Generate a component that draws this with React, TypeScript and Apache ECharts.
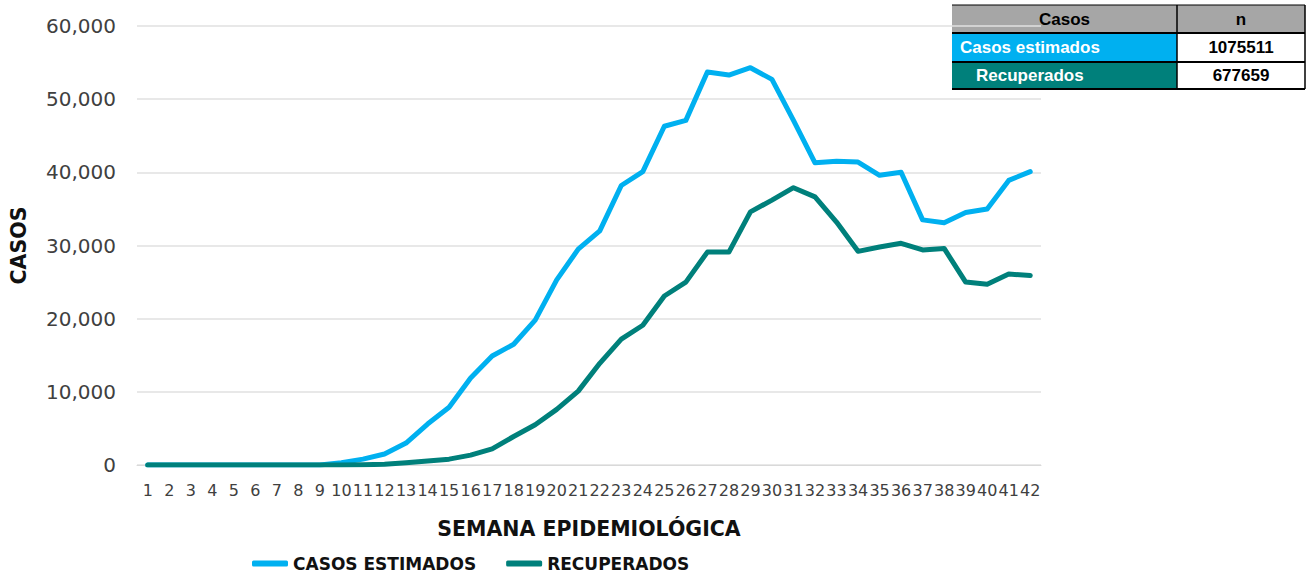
import React, { useEffect, useRef } from "react";
import * as echarts from "echarts";

const weeks = Array.from({ length: 42 }, (_, i) => String(i + 1));
const casosEstimados = [
  0, 0, 0, 0, 0, 0, 0, 0, 0, 300, 800, 1500, 3000, 5600, 7900, 11900, 14900, 16500, 19800, 25300,
  29500, 32000, 38200, 40100, 46300, 47100, 53700, 53300, 54300, 52700, 47100, 41300, 41500, 41400,
  39600, 40000, 33500, 33100, 34500, 35000, 38900, 40100,
];
const recuperados = [
  0, 0, 0, 0, 0, 0, 0, 0, 0, 0, 50, 100, 300, 550, 800, 1350, 2200, 3900, 5500, 7600, 10100, 13900,
  17200, 19100, 23100, 25000, 29100, 29100, 34600, 36200, 37900, 36650, 33200, 29200, 29800, 30300,
  29400, 29600, 25000, 24700, 26100, 25900,
];
const seriesNames = ["CASOS ESTIMADOS", "RECUPERADOS"];
const seriesColors = ["#00b0f0", "#00807b"];
const yTicks = [0, 10000, 20000, 30000, 40000, 50000, 60000];

const tableHeader = ["Casos", "n"];
const tableLabels = ["Casos estimados", "Recuperados"];
const tableValues = ["1075511", "677659"];
const tableColors = ["#00b0f0", "#00807b"];

export default function App() {
  const ref = useRef<HTMLDivElement>(null);
  useEffect(() => {
    if (!ref.current) return;
    const chart = echarts.init(ref.current, null, { renderer: "svg" });
    const font = "DejaVu Sans";
    const tX = 952, tW1 = 225, tW2 = 128, tY = 5, rH = [28, 29, 27];
    const tableFont = "Liberation Sans";
    const graphics: any[] = [];
    graphics.push({ type: "rect", shape: { x: tX, y: tY, width: tW1 + tW2, height: rH[0] }, style: { fill: "#a6a6a6" } });
    graphics.push({ type: "text", x: tX + tW1 / 2, y: tY + rH[0] / 2, style: { text: tableHeader[0], fill: "#000", font: `bold 17px '${tableFont}'`, align: "center", verticalAlign: "middle" } });
    graphics.push({ type: "text", x: tX + tW1 + tW2 / 2, y: tY + rH[0] / 2, style: { text: tableHeader[1], fill: "#000", font: `bold 17px '${tableFont}'`, align: "center", verticalAlign: "middle" } });
    let y = tY + rH[0];
    tableLabels.forEach((lab, i) => {
      const h = rH[i + 1];
      graphics.push({ type: "rect", shape: { x: tX, y, width: tW1, height: h }, style: { fill: tableColors[i] } });
      graphics.push({ type: "rect", shape: { x: tX + tW1, y, width: tW2, height: h }, style: { fill: "#fff" } });
      graphics.push({ type: "text", x: tX + 8 + i * 16, y: y + h / 2, style: { text: lab, fill: "#fff", font: `bold 17px '${tableFont}'`, align: "left", verticalAlign: "middle" } });
      graphics.push({ type: "text", x: tX + tW1 + tW2 / 2, y: y + h / 2, style: { text: tableValues[i], fill: "#000", font: `bold 17px '${tableFont}'`, align: "center", verticalAlign: "middle" } });
      y += h;
    });
    let ly = tY;
    for (let k = 0; k <= rH.length; k++) {
      graphics.push({ type: "line", shape: { x1: tX, y1: ly, x2: tX + tW1 + tW2, y2: ly }, style: { stroke: "#000", lineWidth: k === 0 ? 1 : 2 } });
      if (k < rH.length) ly += rH[k];
    }
    graphics.push({ type: "line", shape: { x1: tX + tW1, y1: tY, x2: tX + tW1, y2: ly }, style: { stroke: "#000", lineWidth: 1.5 } });
    graphics.push({ type: "line", shape: { x1: tX + tW1 + tW2, y1: tY, x2: tX + tW1 + tW2, y2: ly }, style: { stroke: "#000", lineWidth: 1.5 } });

    chart.setOption({
      animation: false,
      backgroundColor: "#fff",
      grid: { left: 129, right: 270, top: 26, bottom: 109, containLabel: false },
      legend: {
        data: seriesNames,
        left: 252,
        top: 555,
        padding: 0,
        itemWidth: 36,
        itemHeight: 6,
        itemGap: 30,
        icon: "roundRect",
        textStyle: { fontFamily: font, fontWeight: "bold", fontSize: 17, lineHeight: 17, color: "#111" },
      },
      xAxis: {
        type: "category",
        data: weeks,
        boundaryGap: true,
        name: "SEMANA EPIDEMIOLÓGICA",
        nameLocation: "middle",
        nameGap: 53,
        nameTextStyle: { fontFamily: font, fontWeight: "bold", fontSize: 20.5, color: "#111" },
        axisLine: { show: true, lineStyle: { color: "#d9d9d9" } },
        axisTick: { show: false },
        axisLabel: { interval: 0, fontFamily: font, fontSize: 16, color: "#404040", margin: 17 },
      },
      yAxis: {
        type: "value",
        min: 0,
        max: 60000,
        interval: 10000,
        name: "CASOS",
        nameLocation: "middle",
        nameGap: 108,
        nameTextStyle: { fontFamily: font, fontWeight: "bold", fontSize: 20.5, color: "#111" },
        axisLine: { show: false },
        axisTick: { show: false },
        splitLine: { lineStyle: { color: "#e0e0e0", width: 1.5 } },
        axisLabel: {
          fontFamily: font,
          fontSize: 20,
          color: "#404040",
          margin: 21,
          formatter: (v: number) => (yTicks.includes(v) ? v.toLocaleString("en-US") : ""),
        },
      },
      series: [
        { name: seriesNames[0], type: "line", data: casosEstimados, symbol: "none", lineStyle: { width: 5, color: seriesColors[0], cap: "round", join: "round" }, itemStyle: { color: seriesColors[0] } },
        { name: seriesNames[1], type: "line", data: recuperados, symbol: "none", lineStyle: { width: 5, color: seriesColors[1], cap: "round", join: "round" }, itemStyle: { color: seriesColors[1] } },
      ],
      graphic: graphics,
    });
    return () => chart.dispose();
  }, []);
  return <div ref={ref} style={{ width: 1311, height: 574, position: "absolute", left: 0, top: 0 }} />;
}
